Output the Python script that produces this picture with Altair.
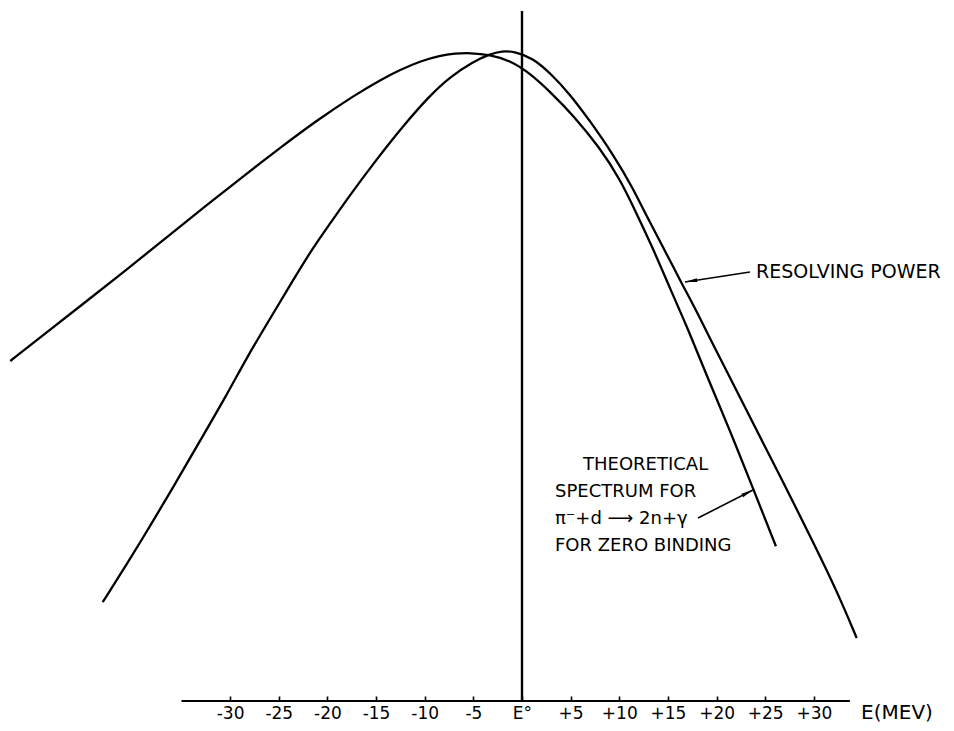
import altair as alt
import pandas as pd

# Energy E (MeV, relative to E°) and relative height
theo_E = [-52.6, -49.2, -45.1, -40.6, -36.2, -32.4, -29.0, -24.6, -21.1, -17.2,
          -14.6, -12.5, -10.5, -8.4, -6.9, -5.3, -3.3, -1.2, 0.8, 3.1,
          5.2, 8.0, 10.1, 11.8, 13.5, 15.2, 17.1, 19.0, 21.4, 23.4, 26.1]
theo_I = [52.3, 56.3, 61.1, 66.4, 71.7, 76.3, 80.3, 85.4, 89.3, 93.2,
          95.5, 97.1, 98.4, 99.3, 99.6, 99.7, 99.4, 98.5, 96.6, 93.4,
          90.2, 85.1, 80.2, 74.9, 69.5, 63.5, 57.1, 50.0, 41.5, 34.0, 23.8]

res_E = [-43.1, -40.6, -37.9, -35.5, -33.1, -30.3, -28.3, -25.9, -23.5, -21.5,
         -19.7, -17.7, -14.9, -12.2, -9.5, -7.4, -5.1, -3.3, -2.1, -0.7,
         1.1, 2.9, 4.9, 7.0, 9.4, 11.4, 12.8, 14.5, 16.5, 18.0,
         19.3, 21.4, 24.1, 26.8, 29.9, 32.4, 34.4]
res_I = [15.2, 21.1, 27.7, 33.8, 40.0, 47.2, 52.8, 58.8, 64.8, 69.7,
         73.5, 77.8, 83.4, 88.5, 93.1, 96.0, 98.3, 99.5, 100.0, 99.9,
         98.9, 96.6, 93.4, 89.2, 84.0, 78.9, 74.6, 69.8, 64.0, 59.8,
         55.8, 49.7, 41.7, 33.8, 24.5, 16.8, 9.7]

tick_values = [-30, -25, -20, -15, -10, -5, 0, 5, 10, 15, 20, 25, 30]

FONT = "DejaVu Sans"
X_DOMAIN = [-52.83, 43.58]
Y_DOMAIN = [0, 106.6]

curves = pd.concat([
    pd.DataFrame({"E": theo_E, "I": theo_I, "curve": "theoretical"}),
    pd.DataFrame({"E": res_E, "I": res_I, "curve": "resolving"}),
])

xaxis = alt.Axis(values=tick_values, tickSize=5, tickWidth=1.6, tickColor="black",
                 domain=False, grid=False, title=None, offset=-5,
                 labelExpr="datum.value == 0 ? 'E°' : (datum.value > 0 ? '+' + datum.value : '' + datum.value)",
                 labelFont=FONT, labelFontSize=17, labelColor="black", labelPadding=4,
                 labelFlush=False, labelOverlap=False)
xs = alt.Scale(domain=X_DOMAIN, nice=False, zero=False)
ys = alt.Scale(domain=Y_DOMAIN, nice=False, zero=False)


def X(field="E"):
    return alt.X(f"{field}:Q", scale=xs, axis=xaxis)


def Y(field="I"):
    return alt.Y(f"{field}:Q", scale=ys, axis=None)


lines = alt.Chart(curves).mark_line(color="black", strokeWidth=2.3, interpolate="basis").encode(
    x=X(), y=Y(), detail="curve:N")

vline = alt.Chart(pd.DataFrame({"E": [0], "I": [0], "I2": [106.15]})).mark_rule(
    color="black", strokeWidth=2.4).encode(x=X(), y=Y(), y2="I2:Q")

baseline = alt.Chart(pd.DataFrame({"E": [-35.0], "E2": [33.7], "I": [0]})).mark_rule(
    color="black", strokeWidth=2.2).encode(x=X(), x2="E2:Q", y=Y())

labels = pd.DataFrame({
    "E": [24.05, 6.27, 3.39, 3.39, 3.39],
    "I": [66.0, 36.3, 32.15, 28.0, 23.85],
    "text": ["RESOLVING POWER", "THEORETICAL", "SPECTRUM FOR", "π⁻+d ⟶ 2n+γ", "FOR ZERO BINDING"],
    "size": [19, 18, 18, 18, 18],
})
text_layer = alt.Chart(labels).mark_text(align="left", baseline="middle", font=FONT,
                                         color="black").encode(
    x=X(), y=Y(), text="text:N", size=alt.Size("size:Q", scale=None, legend=None))

unit = alt.Chart(pd.DataFrame({"E": [38.54], "I": [-1.85], "text": ["E(MEV)"]})).mark_text(
    align="center", baseline="middle", font=FONT, fontSize=20, color="black").encode(
    x=X(), y=Y(), text="text:N")

arrows = pd.DataFrame({
    "E": [23.43, 16.75, 18.09, 23.74],
    "I": [66.0, 64.46, 28.15, 32.46],
    "arrow": ["res", "res", "theo", "theo"],
})
arrow_lines = alt.Chart(arrows).mark_line(color="black", strokeWidth=1.6).encode(
    x=X(), y=Y(), detail="arrow:N")

HEAD = "M-1,0L1,-0.32L1,0.32Z"
head_res = alt.Chart(pd.DataFrame({"E": [17.37], "I": [64.6]})).mark_point(
    shape=HEAD, filled=True, color="black", opacity=1, size=150, angle=351).encode(x=X(), y=Y())
head_theo = alt.Chart(pd.DataFrame({"E": [23.2], "I": [32.05]})).mark_point(
    shape=HEAD, filled=True, color="black", opacity=1, size=150, angle=153).encode(x=X(), y=Y())

chart = alt.layer(lines, vline, baseline, arrow_lines, head_res, head_theo, text_layer, unit).properties(
    width=938, height=693,
    autosize=alt.AutoSizeParams(type="none"),
    padding={"left": 0, "top": 0, "right": 0, "bottom": 30},
    background="white",
).configure_view(stroke=None)

chart.save("out.html", embed_options={"renderer": "svg", "actions": False})
